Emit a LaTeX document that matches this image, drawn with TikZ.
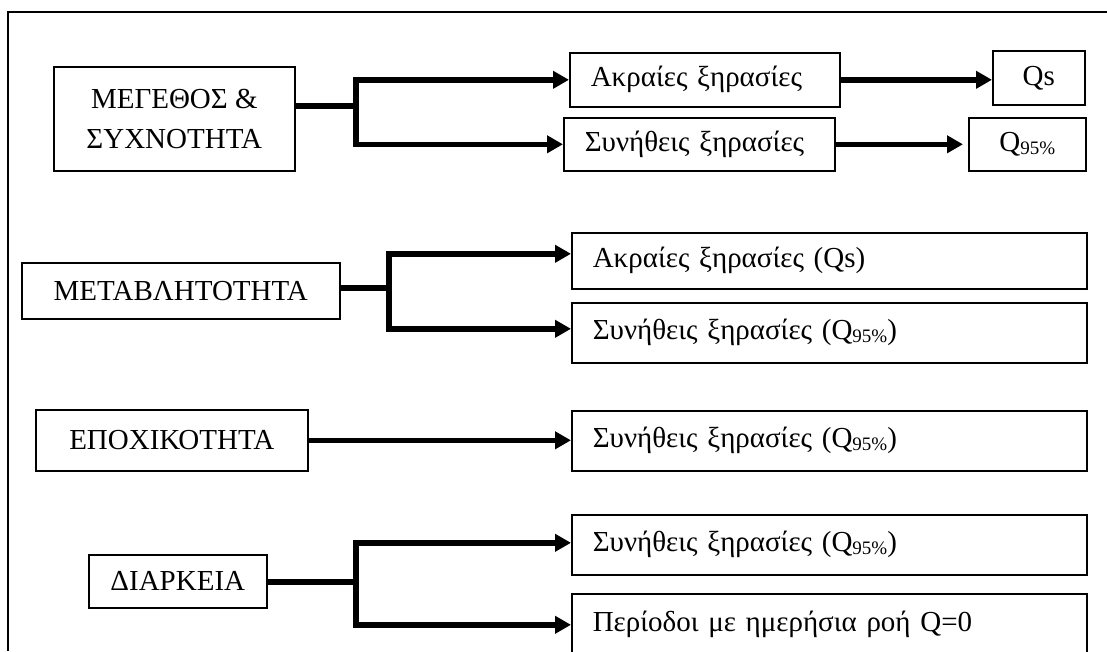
\documentclass[tikz,border=0pt]{standalone}
\usepackage{fontspec}
\setmainfont{Liberation Serif}
\usetikzlibrary{arrows.meta, positioning}
\newcommand{\qnf}{Q\raisebox{-2.5pt}{\fontsize{19}{19}\selectfont 95\%}}

\begin{document}
\begin{tikzpicture}[x=1pt, y=-1pt,
        every node/.style={font=\fontsize{29}{40}\selectfont},
        box/.style={draw, line width=1.6pt, anchor=north west, inner sep=0pt, align=center},
        leftbox/.style={box, align=left, inner xsep=21pt, text width=#1},
        arr/.style={-{Triangle[length=16pt, width=17pt]}, line width=5.5pt},
        stub/.style={line width=5.5pt}]
        \useasboundingbox (0,0) rectangle (1107,651);

        % --- Frame ---
        \draw[line width=1.4pt] (8,651) -- (8,12) -- (1107,12);

        % --- Left column ---
        \node[box, minimum width=241pt, minimum height=104pt] (size) at (53,66) {ΜΕΓΕΘΟΣ \&\\ΣΥΧΝΟΤΗΤΑ};
        \node[box, minimum width=318pt, minimum height=56pt] (var) at (21,262) {ΜΕΤΑΒΛΗΤΟΤΗΤΑ};
        \node[box, minimum width=272pt, minimum height=61pt] (season) at (35,409) {ΕΠΟΧΙΚΟΤΗΤΑ};
        \node[box, minimum width=178pt, minimum height=53pt] (dur) at (88,554) {ΔΙΑΡΚΕΙΑ};

        % --- Size & frequency targets ---
        \node[leftbox=228pt, minimum height=54pt] (ext1) at (569,52) {Ακραίες ξηρασίες};
        \node[leftbox=229pt, minimum height=53pt] (com1) at (563,117) {Συνήθεις ξηρασίες};
        \node[box, minimum width=92pt, minimum height=54pt] (qs) at (992,50) {Qs};
        \node[box, minimum width=117pt, minimum height=53pt] (q95) at (968,117) {\qnf};

        % --- Long boxes ---
        \node[leftbox=473pt, minimum height=56pt] (ext2) at (571,232) {Ακραίες ξηρασίες (Qs)};
        \node[leftbox=473pt, minimum height=60pt] (com2) at (571,302) {Συνήθεις ξηρασίες (\qnf)};
        \node[leftbox=473pt, minimum height=60pt] (com3) at (571,410) {Συνήθεις ξηρασίες (\qnf)};
        \node[leftbox=473pt, minimum height=60pt] (com4) at (571,514) {Συνήθεις ξηρασίες (\qnf)};
        \node[leftbox=473pt, minimum height=62pt] (zero) at (571,593) {Περίοδοι με ημερήσια ροή Q=0};

        % --- Branch points ---
        \coordinate (b1) at (356,106);
        \coordinate (b2) at (389,288);
        \coordinate (b4) at (356,582);

        % --- Connectors ---
        \draw[stub] (size.east |- b1) -- (b1);
        \draw[arr] (b1) |- (ext1.west);
        \draw[arr] (b1) |- (com1.west);
        \draw[arr] (ext1.east) -- (ext1.east -| qs.west);
        \draw[arr, shorten >=5pt] (com1.east) -- (com1.east -| q95.west);

        \draw[stub] (var.east |- b2) -- (b2);
        \draw[arr] (b2) |- ([yshift=7pt]ext2.west);
        \draw[arr] (b2) |- ([yshift=4pt]com2.west);

        \draw[arr] (season.east) -- (season.east -| com3.west);

        \draw[stub] (dur.east |- b4) -- (b4);
        \draw[arr] (b4) |- ([yshift=2pt]com4.west);
        \draw[arr] (b4) |- (zero.west);
    \end{tikzpicture}
\end{document}
